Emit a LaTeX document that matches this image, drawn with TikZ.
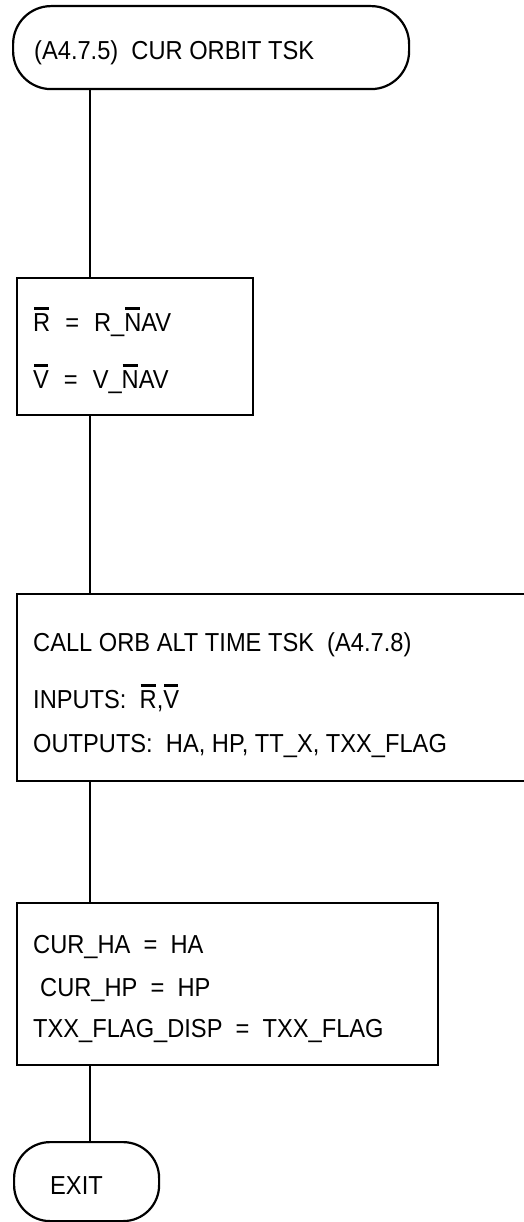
\documentclass[tikz,border=0pt]{standalone}
\usepackage{fontspec}
\setmainfont[FakeStretch=0.91]{Liberation Sans}
\usepackage{tikz}

% letter with a bar on top
\newcommand{\ovbar}[1]{\setbox0\hbox{#1}\rlap{\hspace{1pt}\rule[\dimexpr\ht0+3.5pt\relax]{\dimexpr\wd0-2pt\relax}{2.6pt}}\box0}

\tikzset{
  flowbox/.style={draw, line width=2.2pt, inner sep=0pt, anchor=north west},
  termbox/.style={flowbox, rounded corners=38pt},
  flowtxt/.style={anchor=base west, inner sep=0pt, font=\fontsize{26}{30}\selectfont},
  flowline/.style={line width=2pt},
}

\begin{document}
\begin{tikzpicture}[x=1pt, y=-1pt]
  \useasboundingbox (0,0) rectangle (524,1222);
  \coordinate (lx) at (90,0);

  % Inizio
  \node[termbox, minimum width=396pt, minimum height=83pt] (start) at (12,5) {};
  \node[flowtxt] (title) at (34,60) {(A4.7.5)\ \ CUR ORBIT TSK};

  % Blocchi
  \node[flowbox, minimum width=236pt, minimum height=137pt] (setrv) at (16,277) {};
  \node[flowbox, minimum width=540pt, minimum height=187pt] (callorb) at (16,593) {};
  \node[flowbox, minimum width=421pt, minimum height=162pt] (setcur) at (16,902) {};

  % Fine
  \node[termbox, rounded corners=36pt, minimum width=145pt, minimum height=79pt] (exit) at (13,1141) {};
  \node[flowtxt] (exittxt) at (50,1194) {EXIT};

  % Collegamenti
  \draw[flowline] (start.south -| lx) -- (setrv.north -| lx);
  \draw[flowline] (setrv.south -| lx) -- (callorb.north -| lx);
  \draw[flowline] (callorb.south -| lx) -- (setcur.north -| lx);
  \draw[flowline] (setcur.south -| lx) -- (exit.north -| lx);

  % Testi
  \node[flowtxt] (rline) at (33,331) {\ovbar{R}\hspace{15pt}=\hspace{15pt}R\_\ovbar{N}AV};
  \node[flowtxt] (vline) at (33,388) {\ovbar{V}\hspace{15pt}=\hspace{15pt}V\_\ovbar{N}AV};

  \node[flowtxt] (callline) at (33,651) {CALL ORB ALT TIME TSK\ \ (A4.7.8)};
  \node[flowtxt] (inline) at (33,708) {INPUTS:\ \ \ovbar{R},\ovbar{V}};
  \node[flowtxt] (outline) at (33,752) {OUTPUTS:\ \ HA, HP, TT\_X, TXX\_FLAG};

  \node[flowtxt] (haline) at (33,953) {CUR\_HA\ \ =\ \ HA};
  \node[flowtxt] (hpline) at (40,996) {CUR\_HP\ \ =\ \ HP};
  \node[flowtxt] (flagline) at (33,1037) {TXX\_FLAG\_DISP\ \ =\ \ TXX\_FLAG};
\end{tikzpicture}
\end{document}
